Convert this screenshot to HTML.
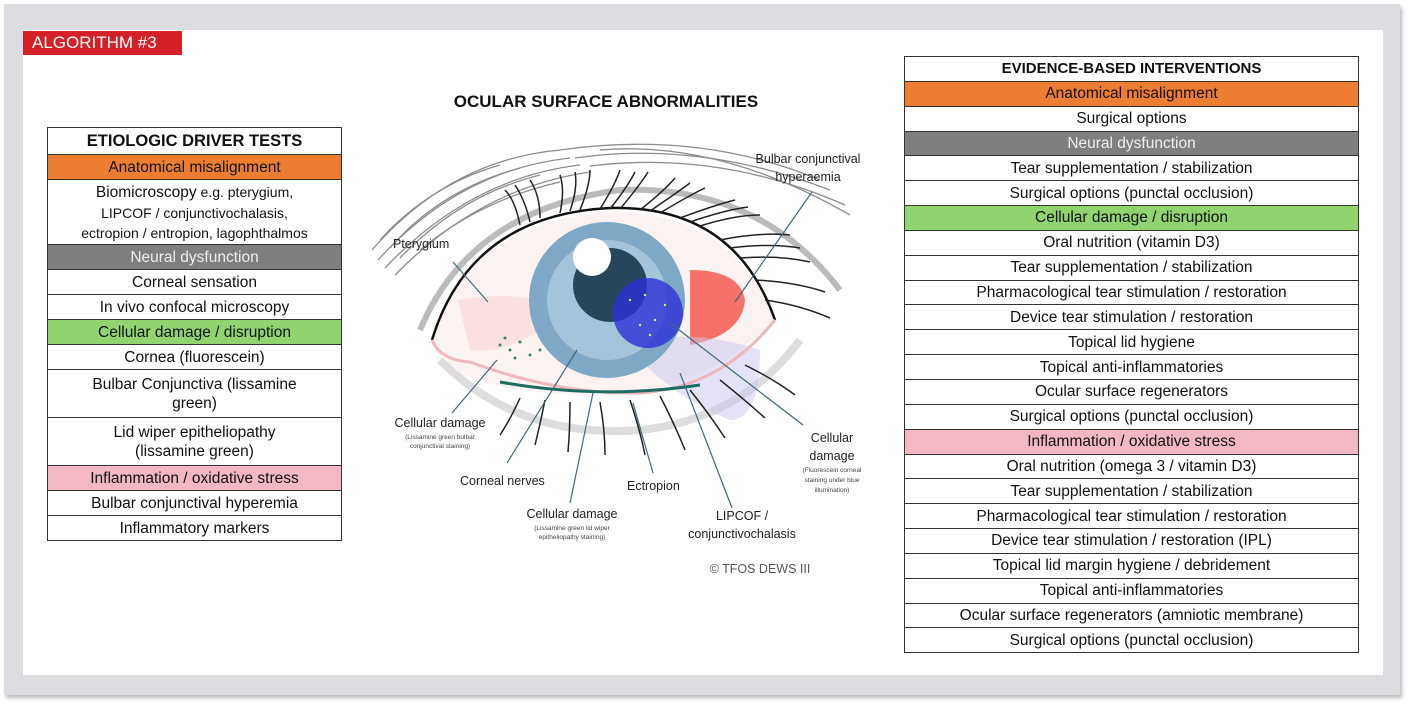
<!DOCTYPE html>
<html><head><meta charset="utf-8"><style>
*{margin:0;padding:0;box-sizing:border-box}
body{width:1413px;height:708px;background:#fff;position:relative;overflow:hidden;font-family:"Liberation Sans",sans-serif;color:#111}
#frame{position:absolute;left:4px;top:4px;width:1396px;height:691px;background:#dcdde0;box-shadow:2px 3px 4px #bbb}
#inner{position:absolute;left:23px;top:30px;width:1360px;height:645px;background:#fff}
#tag{position:absolute;left:23px;top:31px;width:159px;height:24px;background:#d42027;color:#fff;font-size:17px;line-height:24px;padding-left:9px}
table{position:absolute;border-collapse:collapse;font-size:15.5px;text-align:center}
td{border:1px solid #333;height:25px;padding:0 2px;line-height:19px;white-space:nowrap}
#rt td{height:24.85px}
.h{font-weight:bold}
.o{background:#ed7d31}
.g{background:#7f7f7f;color:#eee}
.gr{background:#8fd46e}
.p{background:#f4b7c4}
#title{position:absolute;left:406px;width:400px;top:92px;text-align:center;font-weight:bold;font-size:17px}
</style></head><body>
<div id="frame"></div><div id="inner"></div>
<div id="tag">ALGORITHM #3</div>
<div id="title">OCULAR SURFACE ABNORMALITIES</div>

<table style="left:47px;top:127px;width:295px">
<tr><td class="h" style="height:27px;font-size:16.5px">ETIOLOGIC DRIVER TESTS</td></tr>
<tr><td class="o">Anatomical misalignment</td></tr>
<tr><td style="height:65px;font-size:14px;line-height:20px"><span style="font-size:15.5px">Biomicroscopy</span> e.g. pterygium,<br>LIPCOF / conjunctivochalasis,<br>ectropion / entropion, lagophthalmos</td></tr>
<tr><td class="g">Neural dysfunction</td></tr>
<tr><td>Corneal sensation</td></tr>
<tr><td>In vivo confocal microscopy</td></tr>
<tr><td class="gr">Cellular damage / disruption</td></tr>
<tr><td>Cornea (fluorescein)</td></tr>
<tr><td style="height:48px">Bulbar Conjunctiva (lissamine<br>green)</td></tr>
<tr><td style="height:48px">Lid wiper epitheliopathy<br>(lissamine green)</td></tr>
<tr><td class="p">Inflammation / oxidative stress</td></tr>
<tr><td>Bulbar conjunctival hyperemia</td></tr>
<tr><td>Inflammatory markers</td></tr>
</table>

<table id="rt" style="left:904px;top:56px;width:455px">
<tr><td class="h" style="font-size:15px">EVIDENCE-BASED INTERVENTIONS</td></tr>
<tr><td class="o">Anatomical misalignment</td></tr>
<tr><td>Surgical options</td></tr>
<tr><td class="g">Neural dysfunction</td></tr>
<tr><td>Tear supplementation / stabilization</td></tr>
<tr><td>Surgical options (punctal occlusion)</td></tr>
<tr><td class="gr">Cellular damage / disruption</td></tr>
<tr><td>Oral nutrition (vitamin D3)</td></tr>
<tr><td>Tear supplementation / stabilization</td></tr>
<tr><td>Pharmacological tear stimulation / restoration</td></tr>
<tr><td>Device tear stimulation / restoration</td></tr>
<tr><td>Topical lid hygiene</td></tr>
<tr><td>Topical anti-inflammatories</td></tr>
<tr><td>Ocular surface regenerators</td></tr>
<tr><td>Surgical options (punctal occlusion)</td></tr>
<tr><td class="p">Inflammation / oxidative stress</td></tr>
<tr><td>Oral nutrition (omega 3 / vitamin D3)</td></tr>
<tr><td>Tear supplementation / stabilization</td></tr>
<tr><td>Pharmacological tear stimulation / restoration</td></tr>
<tr><td>Device tear stimulation / restoration (IPL)</td></tr>
<tr><td>Topical lid margin hygiene / debridement</td></tr>
<tr><td>Topical anti-inflammatories</td></tr>
<tr><td>Ocular surface regenerators (amniotic membrane)</td></tr>
<tr><td>Surgical options (punctal occlusion)</td></tr>
</table>

<svg style="position:absolute;left:0;top:0" width="1413" height="708" font-family="Liberation Sans, sans-serif">
<!-- brow -->
<g stroke="#666" stroke-width="1.3" fill="none" opacity="0.75">
<path d="M372 250 Q450 160 560 150"/><path d="M378 260 Q460 170 570 158"/><path d="M385 268 Q470 178 580 165"/>
<path d="M395 275 Q480 188 590 172"/><path d="M560 150 Q700 130 820 180"/><path d="M575 158 Q700 140 830 190"/>
<path d="M590 166 Q720 150 845 205"/><path d="M380 240 Q430 185 500 165"/><path d="M390 248 Q440 190 520 168"/>
<path d="M400 258 Q460 195 540 175"/><path d="M600 150 Q720 140 850 215"/><path d="M420 250 Q480 200 560 182"/>
</g>
<!-- lid folds -->
<path d="M420 330 Q470 210 620 190 Q760 185 840 290" fill="none" stroke="#bbb" stroke-width="6"/>
<path d="M440 360 Q520 440 640 430 Q740 420 800 340" fill="none" stroke="#ddd" stroke-width="8"/>
<!-- sclera -->
<path d="M432 340 Q470 220 610 212 Q730 210 775 320 Q700 395 600 395 Q500 395 455 370 Z" fill="#fbf3f2"/>
<path d="M458 300 Q500 292 540 300 L540 330 Q500 355 470 350 Z" fill="#f9d9d9" opacity="0.7"/>
<path d="M690 270 Q740 270 745 300 Q742 335 690 345 Z" fill="#f55a50" opacity="0.85"/>
<path d="M640 340 Q700 330 760 350 Q760 420 730 420 Q680 400 640 360Z" fill="#c9c6ee" opacity="0.5"/>
<!-- iris -->
<circle cx="607" cy="300" r="78" fill="#7fa8c6"/>
<circle cx="607" cy="300" r="60" fill="#a4c4da"/>
<circle cx="610" cy="285" r="37" fill="#27465a"/>
<circle cx="592" cy="257" r="19" fill="#fff"/>
<circle cx="648" cy="313" r="35" fill="#2e2fd8" opacity="0.8"/>
<g fill="#e0e66a"><circle cx="630" cy="300" r="1.2"/><circle cx="645" cy="295" r="1.2"/><circle cx="655" cy="320" r="1.2"/><circle cx="640" cy="325" r="1.2"/><circle cx="665" cy="305" r="1.2"/><circle cx="650" cy="335" r="1.2"/></g>
<g fill="#2f8a5a"><circle cx="500" cy="345" r="1.5"/><circle cx="510" cy="350" r="1.5"/><circle cx="520" cy="342" r="1.5"/><circle cx="530" cy="355" r="1.5"/><circle cx="515" cy="358" r="1.5"/><circle cx="540" cy="350" r="1.5"/><circle cx="505" cy="338" r="1.5"/></g>
<!-- lid outline -->
<path d="M432 340 Q470 215 610 208 Q735 205 775 320" fill="none" stroke="#111" stroke-width="2.5"/>
<path d="M432 340 Q440 360 470 362 Q560 395 640 393 Q720 388 775 320" fill="none" stroke="#f0b8bd" stroke-width="3"/>
<path d="M500 382 Q600 400 700 385" fill="none" stroke="#1d6b63" stroke-width="3"/>
<!-- lashes -->
<g stroke="#222" stroke-width="1.5" fill="none">
<path d="M520 225 Q515 200 505 190"/><path d="M540 218 Q540 195 530 180"/><path d="M560 213 Q565 190 560 175"/><path d="M580 210 Q590 185 590 170"/><path d="M600 209 Q615 185 620 170"/><path d="M620 209 Q640 185 648 172"/><path d="M640 210 Q665 190 675 178"/><path d="M660 213 Q690 195 705 188"/><path d="M680 218 Q715 205 735 200"/><path d="M700 226 Q735 215 760 215"/><path d="M720 240 Q760 232 790 235"/><path d="M740 258 Q780 255 810 262"/><path d="M755 280 Q795 282 825 292"/>
<path d="M530 222 Q525 200 515 185"/><path d="M570 211 Q578 188 575 172"/><path d="M610 209 Q628 186 635 172"/><path d="M650 211 Q678 192 690 183"/><path d="M690 222 Q725 210 748 207"/><path d="M730 248 Q770 243 800 248"/><path d="M765 300 Q800 305 830 318"/>
<path d="M520 398 Q510 420 500 435"/><path d="M545 400 Q540 425 535 445"/><path d="M570 402 Q570 430 568 452"/><path d="M600 402 Q605 430 605 455"/><path d="M630 400 Q640 430 645 455"/><path d="M660 396 Q675 425 685 450"/><path d="M690 390 Q710 415 725 438"/><path d="M720 380 Q745 400 765 418"/><path d="M745 365 Q775 380 795 395"/>
</g>
<!-- leader lines -->
<g stroke="#3b6b80" stroke-width="1.2">
<line x1="453" y1="262" x2="488" y2="302"/><line x1="812" y1="192" x2="735" y2="302"/>
<line x1="452" y1="413" x2="497" y2="360"/><line x1="507" y1="463" x2="577" y2="350"/>
<line x1="570" y1="503" x2="593" y2="393"/><line x1="653" y1="473" x2="633" y2="403"/>
<line x1="732" y1="508" x2="680" y2="373"/><line x1="803" y1="425" x2="670" y2="323"/>
</g>
<g fill="#222" font-size="12.5">
<text x="393" y="248">Pterygium</text>
<text x="808" y="163" text-anchor="middle">Bulbar conjunctival</text>
<text x="808" y="181" text-anchor="middle">hyperaemia</text>
<text x="440" y="427" text-anchor="middle">Cellular damage</text>
<text x="460" y="485">Corneal nerves</text>
<text x="627" y="490">Ectropion</text>
<text x="572" y="518" text-anchor="middle">Cellular damage</text>
<text x="742" y="520" text-anchor="middle">LIPCOF /</text>
<text x="742" y="538" text-anchor="middle">conjunctivochalasis</text>
<text x="832" y="442" text-anchor="middle">Cellular</text>
<text x="832" y="460" text-anchor="middle">damage</text>
<text x="760" y="573" text-anchor="middle" fill="#555">© TFOS DEWS III</text>
</g>
<g fill="#444" font-size="6.5" text-anchor="middle">
<text x="440" y="439">(Lissamine green bulbar</text><text x="440" y="448">conjunctival staining)</text>
<text x="572" y="530">(Lissamine green lid wiper</text><text x="572" y="539">epitheliopathy staining)</text>
<text x="832" y="472">(Fluorescein corneal</text><text x="832" y="482">staining under blue</text><text x="832" y="492">illumination)</text>
</g>
</svg>
</body></html>
